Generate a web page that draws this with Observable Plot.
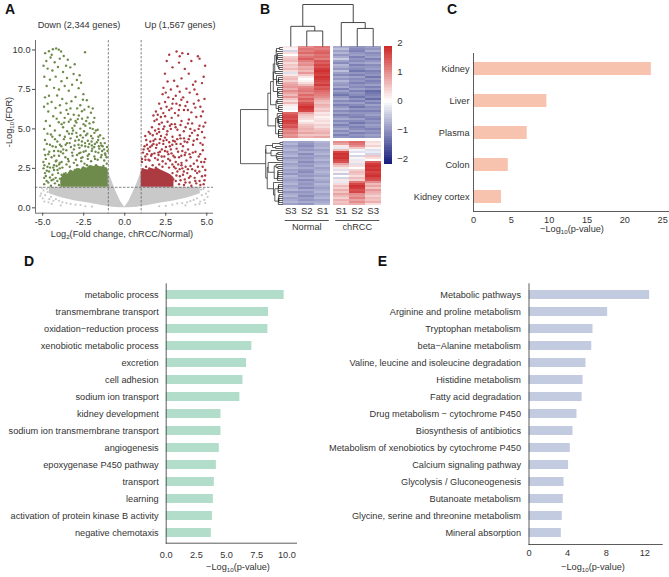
<!DOCTYPE html>
<html><head><meta charset="utf-8">
<script src="https://cdn.jsdelivr.net/npm/d3@7"></script>
<script src="https://cdn.jsdelivr.net/npm/@observablehq/plot@0.6"></script>
<style>
body{margin:0;background:#fff;}
#fig{position:relative;width:669px;height:577px;overflow:hidden;font-family:"Liberation Sans",Arial,sans-serif;color:#333;background:#fff;}
#fig svg{position:absolute;left:0;top:0;}
.lab{position:absolute;transform:translate(-50%,-50%);white-space:nowrap;font-size:9.2px;line-height:1;}
.rot{transform:translate(-50%,-50%) rotate(-90deg);}
.pl{font-weight:bold;font-size:14px;color:#111;}
.lab sub{font-size:6.2px;vertical-align:-2px;line-height:0;}
</style></head><body><div id="fig"></div>
<script>
// ---------------- Panel A: volcano ----------------
const thresholdsFC = [-1, 1];
const thresholdFDR = [1.3];
const downPts = [
[-4.85,9.8],[-4.62,9.92],[-4.38,10.05],[-4.18,10.1],[-4.02,10.02],[-3.88,9.9],[-3.72,9.62],[-3.47,9.38],[-4.78,9.3],[-4.52,9.52],[-4.27,9.22],[-3.96,9.45],[-2.42,9.86],[-4.7,8.82],[-4.41,8.7],[-4.07,8.92],[-3.76,8.6],[-3.32,8.9],[-3.12,8.48],[-4.9,8.3],[-4.56,8.12],[-4.21,8.31],[-3.86,8.02],[-3.52,8.22],[-2.92,8.1],[-2.66,7.92],[-4.76,7.72],[-4.31,7.6],[-3.66,7.72],[-3.21,7.8],[-2.81,7.58],[-4.01,7.5],[-3.41,7.42],[-2.52,7.2],[-4.62,7.1],[-3.05,9.1],[-4.95,9.0],[-3.58,9.0],[-2.75,8.4],[-4.45,9.7],
[-4.86,7.0],[-4.12,7.12],[-3.81,6.9],[-3.0,7.02],[-2.31,6.82],[-4.46,6.7],[-3.56,6.62],[-2.71,6.5],[-4.92,6.4],[-4.22,6.32],[-3.31,6.3],[-2.46,6.22],[-2.06,6.02],[-4.66,6.1],[-3.91,6.02],[-3.11,5.9],[-2.61,6.12],[-4.36,5.8],[-3.66,5.7],[-2.86,5.62],[-2.26,5.72],[-4.81,5.5],[-4.02,5.42],[-3.41,5.45],[-2.51,5.3],[-1.91,5.42],[-4.56,5.2],[-3.76,5.1],[-3.06,5.2],[-2.71,5.02],[-2.11,5.05],[-4.91,5.0],[-4.26,4.9],[-3.51,4.85],[-1.76,4.9],[-3.25,6.75],[-3.95,6.5],[-2.9,6.3],[-4.7,6.6],[-3.45,5.95],[-2.35,5.5],[-4.15,5.65],[-2.95,5.4],[-3.85,5.3],[-1.95,5.0],[-3.2,5.05],
[-4.71,4.7],[-4.41,4.5],[-3.96,4.6],[-3.21,4.7],[-2.91,4.5],[-2.36,4.6],[-1.96,4.4],[-1.61,4.5],[-4.86,4.3],[-4.11,4.2],[-3.71,4.35],[-3.36,4.1],[-2.61,4.2],[-2.16,4.05],[-1.46,4.1],[-4.56,4.0],[-3.86,3.9],[-3.06,3.95],[-2.76,3.8],[-2.41,3.9],[-1.86,3.85],[-1.26,3.7],[-4.91,3.7],[-4.31,3.6],[-3.56,3.65],[-3.21,3.5],[-2.51,3.55],[-2.01,3.6],[-1.61,3.5],[-4.66,3.4],[-4.01,3.3],[-3.76,3.45],[-2.91,3.35],[-2.26,3.3],[-1.41,3.35],[-1.11,3.2],[-4.81,3.1],[-4.46,3.2],[-4.16,3.0],[-3.46,3.1],[-2.66,3.15],[-1.81,3.1],[-4.96,2.9],[-4.61,2.8],[-4.31,2.7],[-3.96,2.85],[-3.3,4.4],[-2.55,4.45],[-1.7,4.15],[-2.0,3.95],[-3.6,4.0],[-2.8,4.3],[-1.35,3.9],[-2.25,4.25],[-4.2,3.85],[-3.1,3.7],[-1.55,3.75],[-2.7,3.5],[-3.9,3.55],[-1.2,3.45],
[-4.95,2.5],[-4.86,2.2],[-4.91,1.9],[-4.76,1.7],[-4.81,2.02],[-4.61,2.3],[-4.56,1.92],[-4.66,1.6],[-4.41,2.1],[-4.46,1.75],[-4.31,2.4],[-4.21,1.9],[-4.26,1.55],[-4.06,2.2],[-4.11,1.7],[-3.96,2.5],[-4.01,1.45],[-4.71,2.6],[-4.36,2.55],[-4.91,1.5],[-4.15,2.65],[-4.5,1.4],[-4.75,2.35],[-3.95,1.85],
[-3.85,2.9],[-3.62,3.2],[-3.42,2.95],[-3.18,3.3],[-2.98,3.05],[-2.78,3.45],[-2.58,3.2],[-2.38,3.6],[-2.18,3.4],[-1.98,3.75],[-1.78,3.55],[-1.58,3.9],[-1.38,3.6],[-1.18,3.35],[-1.05,3.6],
[-3.75,3.7],[-3.52,4.1],[-3.28,3.85],[-3.02,4.25],[-2.82,4.0],[-2.62,3.95],[-2.42,4.1],[-2.22,3.85],[-2.02,4.2],[-1.82,4.05],[-1.62,4.3],[-1.42,3.95],[-1.22,4.1],[-1.08,3.85],
[-3.95,4.0],[-3.65,4.5],[-3.4,4.7],[-3.15,4.9],[-2.95,4.75],[-2.7,4.6],[-2.48,4.85],[-2.28,4.7],[-2.05,4.55],[-1.85,4.75],[-1.65,4.95],[-1.5,4.6],[-1.3,4.4],
[-3.8,2.55],[-3.55,2.75],[-3.35,2.6],[-3.1,2.85],[-2.9,2.7],[-2.65,2.95],[-2.45,2.8],[-2.25,3.1],[-2.05,2.95],[-1.85,3.25],[-1.65,3.05],[-1.45,3.2],[-1.25,3.0],[-1.1,2.8],
[-3.7,5.4],[-3.3,5.6],[-2.8,5.85],[-2.4,5.2],[-2.15,5.35],[-1.85,5.7],[-2.6,5.65],[-3.0,5.5],[-3.55,6.2],[-2.2,6.4],[-2.55,6.85],[-1.95,6.3],
[-4.3,3.3],[-4.05,3.6],[-4.4,3.9],[-4.6,3.55],[-4.75,4.05],[-4.25,4.35],[-4.5,4.65],[-4.85,3.35],[-4.9,2.7],[-4.55,2.55],[-4.2,2.95],[-4.0,2.75],
[-1.15,2.5],[-1.3,2.65],[-1.55,2.55],[-1.75,2.7],[-2.0,2.6],[-2.3,2.7],[-2.55,2.55],[-2.8,2.45],[-3.05,2.4],[-3.3,2.3],[-3.6,2.2],[-3.85,2.1],[-4.1,2.4],[-4.35,1.8]
];
const upPts = [
[2.71,9.7],[3.16,9.9],[3.51,9.8],[3.86,9.75],[4.46,9.6],[4.56,9.45],[2.56,9.3],[3.31,9.2],[4.06,9.3],[2.91,8.9],[3.66,8.8],[4.81,8.3],[2.61,8.0],[3.01,8.05],[3.46,8.2],[4.31,8.0],[4.71,7.9],[2.36,7.6],[2.81,7.5],[3.21,7.7],[3.76,7.55],[4.16,7.8],[3.96,7.3],[3.35,9.6],[4.9,9.0],[2.45,8.5],[3.9,8.5],
[2.31,7.2],[2.66,7.0],[3.11,7.1],[3.56,7.0],[4.41,7.2],[4.86,6.9],[2.46,6.7],[2.91,6.6],[3.36,6.5],[3.81,6.7],[4.21,6.6],[4.61,6.4],[2.21,6.3],[2.71,6.2],[3.06,6.0],[3.61,6.2],[4.06,6.05],[4.76,6.1],[2.01,5.9],[2.46,5.8],[2.86,5.7],[3.26,5.85],[3.91,5.6],[4.36,5.75],[1.81,5.5],[2.26,5.4],[2.61,5.45],[3.06,5.3],[3.46,5.5],[4.11,5.35],[4.56,5.2],[4.91,5.4],[1.66,5.1],[2.06,5.0],[2.41,5.15],[2.81,5.0],[3.21,4.95],[3.71,5.1],[4.26,4.9],[4.71,4.8],[2.1,6.6],[2.95,6.9],[3.7,6.45],[4.5,6.8],[2.35,6.0],[3.3,6.2],[4.0,5.0],[1.95,5.6],[2.75,5.2],
[1.46,4.8],[1.71,4.6],[1.96,4.7],[2.21,4.55],[2.56,4.65],[2.91,4.5],[3.36,4.6],[3.61,4.4],[3.96,4.55],[4.41,4.35],[4.86,4.45],[1.31,4.3],[1.56,4.2],[1.86,4.35],[2.11,4.1],[2.36,4.25],[2.71,4.15],[3.06,4.2],[3.41,4.05],[3.81,4.15],[4.16,4.0],[4.61,4.1],[1.21,3.9],[1.41,3.75],[1.66,3.95],[1.91,3.8],[2.26,3.7],[2.51,3.85],[2.81,3.7],[3.16,3.75],[3.51,3.6],[3.86,3.7],[4.31,3.55],[4.76,3.65],[1.11,3.5],[1.36,3.4],[1.61,3.3],[1.81,3.45],[2.06,3.35],[2.41,3.25],[2.66,3.4],[2.96,3.3],[3.31,3.2],[3.66,3.35],[4.01,3.2],[4.51,3.25],[4.91,3.1],[1.26,3.05],[1.51,3.0],[2.01,3.05],[2.31,2.95],[2.76,3.0],[3.11,2.9],[3.46,2.85],[3.76,3.0],[4.21,2.8],[4.66,2.9],[1.75,4.05],[2.15,3.55],[2.6,3.55],[3.2,4.35],[1.5,3.6],[2.45,4.45],[3.55,3.9],[1.05,3.1],[2.9,4.0],
[3.0,2.6],[3.21,2.3],[3.36,2.0],[3.51,2.5],[3.66,1.8],[3.81,2.2],[3.96,1.6],[4.11,2.45],[4.26,1.9],[4.41,2.2],[4.56,1.7],[4.71,2.0],[4.86,1.75],[3.11,1.7],[3.31,1.5],[3.61,1.45],[3.91,1.9],[4.06,1.4],[4.36,1.55],[4.61,1.45],[4.81,1.5],[3.46,2.7],[3.71,2.6],[4.01,2.65],[4.46,2.6],[4.91,2.4],[3.26,2.75],[2.91,2.2],[2.96,1.8],[2.81,1.5],[3.15,2.05],[3.85,2.45],[4.3,2.35],[4.75,2.6],
[1.05,2.9],[1.25,3.25],[1.45,3.05],[1.65,3.4],[1.85,3.15],[2.05,3.5],[2.25,3.25],[2.45,3.6],[2.65,3.1],[2.85,3.45],[3.05,3.2],[3.25,3.55],[3.45,3.3],[3.7,3.5],[3.95,3.4],
[1.15,3.7],[1.35,4.0],[1.55,3.85],[1.75,4.25],[1.95,4.0],[2.15,4.35],[2.35,4.05],[2.55,4.3],[2.75,3.9],[2.95,4.25],[3.15,4.05],[3.4,4.4],[3.65,4.2],[3.9,4.35],[4.2,4.25],[4.45,4.6],
[1.25,4.55],[1.55,4.7],[1.85,4.9],[2.1,4.8],[2.35,5.0],[2.6,4.85],[2.85,5.3],[3.1,5.1],[3.4,5.25],[3.6,4.85],[3.85,5.35],[4.1,4.75],[4.5,5.0],[4.8,5.15],
[1.1,2.45],[1.3,2.6],[1.5,2.5],[1.7,2.7],[1.9,2.55],[2.1,2.75],[2.3,2.6],[2.5,2.8],[2.7,2.55],[2.9,2.75],[3.1,2.5],[3.35,2.45],[3.6,2.3],
[1.9,6.1],[2.2,5.75],[2.55,6.4],[2.85,6.3],[3.15,6.6],[3.45,6.85],[3.85,6.2],[4.3,6.35],[4.65,5.8],[2.5,7.3],[3.35,7.35],[4.25,7.5],[1.75,5.85],[2.1,5.3],
[4.85,2.9],[4.6,3.4],[4.4,3.0],[4.15,3.5],[4.75,4.0],[4.3,1.7],[4.55,2.3],[3.7,1.6],[4.0,2.0],[3.4,1.75],[3.55,2.1],[4.9,2.05]
];
const grayPts = [
[-5.1,0.9],[-4.95,1.1],[-5.0,0.6],[-4.85,0.8],[-4.9,0.4],[-4.75,1.2],[-4.6,0.55],[-4.5,0.7],[-4.35,0.45],[-4.2,0.55],[-4.0,0.45],[-3.8,0.35],[-3.55,0.3],[-3.3,0.25],[-3.0,0.2],[-2.7,0.18],[-4.45,0.25],[-3.9,0.15],[-5.05,1.25],[-4.7,1.0],[-2.4,0.1],[-2.0,0.08],[-4.65,0.35],[-5.15,0.75],
[4.8,1.2],[4.95,0.9],[5.05,0.7],[4.85,0.5],[4.7,0.8],[4.6,0.4],[4.5,1.0],[4.4,0.6],[4.2,0.5],[4.0,0.42],[3.8,0.35],[3.5,0.3],[3.2,0.28],[2.9,0.2],[4.55,0.25],[4.9,0.3],[3.7,0.15],[5.1,1.05],[4.65,1.15],[2.5,0.12],[2.1,0.1],[4.3,0.2]
];
// dense envelopes (where the points overlap into a solid cloud)
const grayEnvX  = [-4.6,-4.2,-3.8,-3.4,-3.0,-2.6,-2.2,-1.8,-1.4,-1.0,-1.0,-0.75,-0.5,-0.25,0,0.25,0.5,0.75,1.0,1.0,1.4,1.8,2.2,2.6,3.0,3.4,3.8,4.2,4.6];
const grayEnvLo = [0.9,0.75,0.62,0.52,0.44,0.37,0.3,0.22,0.15,0.08,0.08,0.04,0.02,0.01,0,0.01,0.02,0.04,0.08,0.08,0.15,0.22,0.3,0.37,0.44,0.52,0.62,0.75,0.9];
const grayEnvHi = [1.3,1.3,1.3,1.3,1.3,1.3,1.3,1.3,1.3,1.3,2.3,1.6,0.95,0.4,0.04,0.4,0.95,1.55,2.25,1.3,1.3,1.3,1.3,1.3,1.3,1.3,1.3,1.3,1.3];
const downCoreX   = [-3.9,-3.7,-3.5,-3.3,-3.1,-2.9,-2.7,-2.5,-2.3,-2.1,-1.9,-1.7,-1.5,-1.3,-1.1,-1.0];
const downCoreTop = [1.8,2.2,2.1,2.4,2.3,2.5,2.4,2.6,2.5,2.7,2.6,2.7,2.6,2.6,2.5,2.4];
const upCoreX   = [1.0,1.2,1.4,1.6,1.8,2.0,2.2,2.4,2.6,2.8,3.0];
const upCoreTop = [2.3,2.45,2.4,2.5,2.45,2.5,2.4,2.3,2.2,2.1,1.9];
const volcanoXTicks = [-5,-2.5,0,2.5,5];
const volcanoYTicks = [0,2.5,5,7.5,10];

// ---------------- Panel B: heatmap ----------------
const samples = ["S3","S2","S1","S1","S2","S3"];
const sampleGroup = ["Normal","Normal","Normal","chRCC","chRCC","chRCC"];
const groupNames = ["Normal","chRCC"];
const topRows = [
[0.2,1.0,1.2,-0.8,-1.0,-0.9],[0.1,1.2,1.1,-0.6,-1.1,-1.0],[-0.4,1.1,1.3,-0.9,-1.2,-0.8],[0.3,1.3,1.4,-0.7,-1.0,-1.1],
[0.0,1.0,1.2,-1.0,-0.9,-1.0],[0.4,1.2,1.3,-0.8,-1.2,-0.9],[0.5,1.4,1.1,-0.5,-1.0,-1.2],[0.6,1.1,1.5,-0.9,-1.1,-1.0],
[0.3,0.9,1.4,-1.1,-0.9,-0.8],[0.5,1.0,1.6,-0.7,-1.2,-1.1],[0.4,0.7,1.5,-0.8,-1.0,-1.0],[0.6,0.8,1.7,-1.0,-1.1,-0.9],
[0.3,0.6,1.8,-0.6,-1.3,-1.2],[-0.3,0.9,1.7,-0.9,-1.0,-1.1],[0.2,0.5,1.6,-1.1,-1.2,-1.0],[0.5,0.2,1.8,-0.8,-0.9,-1.3],
[0.6,0.0,1.7,-1.0,-1.1,-1.0],[0.4,0.1,1.6,-0.7,-1.0,-1.2],[0.7,0.3,1.5,-0.9,-1.2,-1.1],[0.8,0.6,1.7,-1.0,-1.0,-0.9],
[0.9,1.0,1.4,-0.8,-1.1,-1.2],[0.7,1.1,1.5,-1.2,-0.9,-1.0],[1.0,1.2,1.3,-0.9,-1.2,-1.4],[0.8,1.0,1.2,-1.1,-1.0,-1.3],
[0.6,1.3,1.1,-1.3,-1.1,-1.2],[0.9,1.1,1.0,-1.0,-1.3,-1.1],[0.5,1.4,0.8,-0.8,-1.0,-1.4],[0.3,1.2,0.6,-1.1,-1.2,-1.0],
[0.6,1.5,0.5,-0.9,-0.9,-1.2],[0.2,1.6,0.7,-1.2,-1.1,-0.9],[0.1,1.8,0.6,-1.0,-1.3,-1.1],[-0.1,1.7,0.4,-0.8,-1.0,-1.0],
[0.0,1.6,0.5,-1.1,-1.2,-1.2],[1.3,0.8,0.2,-0.9,-1.0,-1.0],[1.5,0.5,0.3,-1.2,-1.1,-0.9],[1.6,0.4,0.1,-1.0,-1.2,-1.1],
[1.5,0.3,0.2,-0.8,-0.9,-1.2],[1.7,0.1,0.3,-1.1,-1.1,-1.0],[1.6,0.3,0.2,-0.9,-1.3,-1.1],[1.4,0.5,0.4,-1.2,-1.0,-0.9],
[1.5,0.6,0.3,-1.0,-1.2,-1.0],[1.2,0.7,0.5,-0.8,-1.1,-1.2],[1.0,0.6,0.6,-1.1,-0.9,-1.0],[1.1,0.8,0.7,-0.9,-1.2,-1.1],
[0.9,0.5,0.5,-1.2,-1.0,-0.9],[1.0,0.7,0.8,-1.0,-1.1,-1.0]
];
const bottomRows = [
[-0.8,-0.9,-0.7,1.0,1.3,0.3],[-0.7,-1.0,-0.8,0.8,1.2,0.2],[-0.9,-1.1,-0.8,0.2,1.0,0.4],[-0.8,-0.9,-0.7,-0.2,0.5,0.1],
[-0.7,-1.0,-0.9,0.6,-0.1,-0.3],[-0.9,-0.8,-0.8,1.6,-0.3,-0.2],[-0.8,-1.1,-0.7,1.8,0.0,-0.4],[-0.7,-0.9,-0.9,1.7,-0.4,0.5],
[-1.0,-1.0,-0.8,1.8,0.1,0.3],[-0.8,-0.9,-0.7,1.6,-0.2,0.0],[-0.7,-1.1,-0.9,1.5,0.2,1.4],[-0.9,-0.9,-0.8,0.8,-0.3,1.7],
[-0.8,-1.0,-0.7,0.5,0.3,1.8],[-0.7,-0.8,-0.9,0.2,0.0,1.7],[-0.9,-1.0,-0.8,-0.3,0.4,1.8],[-0.8,-1.1,-0.7,0.1,0.6,1.6],
[-1.0,-0.9,-0.8,-0.5,0.5,1.7],[-0.7,-1.0,-0.9,0.0,0.3,1.8],[-0.8,-0.8,-0.7,-0.4,0.6,1.6],[-0.9,-1.1,-0.8,0.2,0.4,1.5],
[-0.8,-0.9,-0.9,-0.2,1.2,1.0],[-0.7,-1.0,-0.7,0.3,1.6,0.6],[-0.9,-0.9,-0.8,0.6,1.8,0.8],[-0.8,-1.1,-0.9,0.4,1.7,0.5],
[-0.7,-0.8,-0.8,0.7,1.5,0.9],[-1.0,-1.0,-0.7,0.5,1.6,0.7],[-0.8,-0.9,-0.9,0.8,1.0,0.6],[-0.7,-1.1,-0.8,0.6,0.9,0.4],
[-0.9,-0.9,-0.7,0.4,1.1,0.6],[-0.8,-1.0,-0.9,0.7,0.8,0.5],[-0.7,-0.8,-0.8,0.5,1.0,0.7],[-0.9,-1.0,-0.7,0.6,0.7,0.3]
];
// column dendrogram merges: [childA, childB, height]; leaves 0..5, merge k -> 6+k
const colMerges = [[1,2,3.7],[0,6,4.8],[4,5,4.3],[3,8,5.7],[7,9,10]];
const colorbarTicks = [-2,-1,0,1,2];
const heatRange = [-2.183, 1.886];

// ---------------- Panel C ----------------
const cTissues = ["Kidney","Liver","Plasma","Colon","Kidney cortex"];
const cValues  = [23.5, 9.7, 7.1, 4.6, 3.7];
const cTicks = [0,5,10,15,20,25];
// ---------------- Panel D ----------------
const dTerms = ["metabolic process","transmembrane transport","oxidation\u2212reduction process","xenobiotic metabolic process","excretion","cell adhesion","sodium ion transport","kidney development","sodium ion transmembrane transport","angiogenesis","epoxygenase P450 pathway","transport","learning","activation of protein kinase B activity","negative chemotaxis"];
const dValues = [9.78,8.48,8.43,7.1,6.66,6.36,6.11,4.54,4.54,4.4,4.16,3.99,3.91,3.83,3.74];
const dTicks = [0,2.5,5,7.5,10];
// ---------------- Panel E ----------------
const eTerms = ["Metabolic pathways","Arginine and proline metabolism","Tryptophan metabolism","beta\u2212Alanine metabolism","Valine, leucine and isoleucine degradation","Histidine metabolism","Fatty acid degradation","Drug metabolism \u2212 cytochrome P450","Biosynthesis of antibiotics","Metabolism of xenobiotics by cytochrome P450","Calcium signaling pathway","Glycolysis / Gluconeogenesis","Butanoate metabolism","Glycine, serine and threonine metabolism","Mineral absorption"];
const eValues = [12.5,8.15,6.63,6.5,5.9,5.6,5.5,4.97,4.56,4.28,4.1,3.63,3.56,3.45,3.35];
const eTicks = [0,4,8,12];

// ================= drawing =================
const W = 669, H = 577;
const fig = document.getElementById("fig");
const FONT = "'Liberation Sans', Arial, sans-serif";
const baseStyle = {background:"transparent", overflow:"visible", fontFamily: FONT, fontSize:"9.2px", color:"#333"};
const AX = "#4a4a4a";
const GREEN = "#6f8b4b", RED = "#ab3a41", GRAY = "#c9c9c9";
function add(p){ fig.appendChild(p); }
function label(html, x, y, cls=""){ const d=document.createElement("div"); d.className="lab "+cls; d.innerHTML=html; d.style.left=x+"px"; d.style.top=y+"px"; fig.appendChild(d); }
const minusFmt = d => d < 0 ? "\u2212" + Math.abs(d) : String(d);

// --- A ---
const xDom = [-5.44, 5.41], yDom = [-0.34, 10.6];
const env = grayEnvX.map((x,i)=>({x, lo:grayEnvLo[i], hi:grayEnvHi[i]}));
const dCore = downCoreX.map((x,i)=>({x, lo:thresholdFDR[0], hi:downCoreTop[i]}));
const uCore = upCoreX.map((x,i)=>({x, lo:thresholdFDR[0], hi:upCoreTop[i]}));
add(Plot.plot({
  width:W, height:H, marginLeft:35, marginRight:W-213, marginTop:40, marginBottom:H-212.7,
  x:{domain:xDom}, y:{domain:yDom}, style:baseStyle,
  marks:[
    Plot.areaY(env, {x:"x", y1:"lo", y2:"hi", fill:GRAY}),
    Plot.dot(grayPts, {x:d=>d[0], y:d=>d[1], r:1.1, fill:GRAY}),
    Plot.areaY(dCore, {x:"x", y1:"lo", y2:"hi", fill:GREEN}),
    Plot.areaY(uCore, {x:"x", y1:"lo", y2:"hi", fill:RED}),
    Plot.dot(downPts, {x:d=>d[0], y:d=>d[1], r:1.2, fill:GREEN}),
    Plot.dot(upPts, {x:d=>d[0], y:d=>d[1], r:1.2, fill:RED}),
    Plot.ruleX(thresholdsFC, {stroke:"#666", strokeWidth:0.8, strokeDasharray:"2.5,1.5"}),
    Plot.ruleY(thresholdFDR, {stroke:"#666", strokeWidth:0.8, strokeDasharray:"2.5,1.5"}),
    Plot.ruleX([xDom[0]], {stroke:AX, strokeWidth:0.8}),
    Plot.ruleY([yDom[0]], {stroke:AX, strokeWidth:0.8}),
    Plot.axisX({ticks:volcanoXTicks, tickFormat:d=>d.toFixed(1), tickSize:3, tickPadding:2, label:null, stroke:AX}),
    Plot.axisY({ticks:volcanoYTicks, tickFormat:d=>d.toFixed(1), tickSize:3, tickPadding:2, label:null, stroke:AX})
  ]
}));
label("Down (2,344 genes)", 79, 26);
label("Up (1,567 genes)", 180, 26);
label("-Log<sub>10</sub>(FDR)", 10, 122, "rot");
label("Log<sub>2</sub>(Fold change, chRCC/Normal)", 122, 235);

// --- B ---
const allRows = topRows.concat(bottomRows);
const nTop = topRows.length, gapY = 1.5, gapX = 0.16;
const rowPos = i => i < nTop ? i : i + gapY;
const colPos = c => c < 3 ? c : c + gapX;
const rowEnd = allRows.length + gapY;
const hxDom = [0, samples.length + gapX], hyDom = [0, rowEnd];
const hmL = 282.3, hmR = 380.7, hmT = 46, hmB = 46 + rowEnd*2;
const colorScale = {type:"linear", domain:[heatRange[0],0,heatRange[1]], range:["#131a78","#ffffff","#cd2626"], interpolate:"rgb"};
const cells = [];
allRows.forEach((r,i)=>r.forEach((v,c)=>cells.push({x1:colPos(c), x2:colPos(c)+1, y1:rowPos(i), y2:rowPos(i)+1, v})));
const groups = groupNames.map(g=>{ const idx = sampleGroup.map((s,i)=>s===g?i:-1).filter(i=>i>=0); return {g, a:d3.min(idx), b:d3.max(idx)}; });
add(Plot.plot({
  width:W, height:H, marginLeft:hmL, marginRight:W-hmR, marginTop:hmT, marginBottom:H-hmB,
  x:{domain:hxDom, axis:null}, y:{domain:hyDom, reverse:true, axis:null}, color:colorScale, style:baseStyle,
  marks:[
    Plot.rect(cells, {x1:"x1", x2:"x2", y1:"y1", y2:"y2", fill:"v", shapeRendering:"crispEdges"}),
    Plot.text(samples, {x:(d,i)=>colPos(i)+0.5, y:rowEnd+2.6, text:d=>d, fontSize:9.6}),
    Plot.link(groups, {x1:d=>colPos(d.a)+0.12, x2:d=>colPos(d.b)+0.88, y1:rowEnd+7.5, y2:rowEnd+7.5, stroke:"#555", strokeWidth:1}),
    Plot.text(groups, {x:d=>(colPos(d.a)+colPos(d.b)+1)/2, y:rowEnd+10.6, text:"g", fontSize:9.2})
  ]
}));
// row dendrogram (adjacency-constrained average linkage on the rows above)
function rowDendro(rows){
  let cl = rows.map((r,i)=>({m:[i], h:0, y:rowPos(i)+0.5}));
  const dist=(a,b)=>{let s=0,n=0; for(const i of a.m) for(const j of b.m){let d=0; for(let k=0;k<rows[i].length;k++){const t=rows[i][k]-rows[j][k]; d+=t*t;} s+=Math.sqrt(d); n++;} return s/n;};
  const segs=[];
  while(cl.length>1){
    let best=0, bd=Infinity;
    for(let i=0;i<cl.length-1;i++){const d=dist(cl[i],cl[i+1]); if(d<bd){bd=d;best=i;}}
    const a=cl[best], b=cl[best+1], h=Math.max(bd,a.h,b.h);
    segs.push({x1:a.h,x2:h,y1:a.y,y2:a.y},{x1:b.h,x2:h,y1:b.y,y2:b.y},{x1:h,x2:h,y1:a.y,y2:b.y});
    cl.splice(best,2,{m:a.m.concat(b.m),h,y:(a.y+b.y)/2});
  }
  return {segs, root:cl[0].h};
}
const rd = rowDendro(allRows);
add(Plot.plot({
  width:W, height:H, marginLeft:240, marginRight:W-hmL, marginTop:hmT, marginBottom:H-hmB,
  x:{domain:[rd.root,0], axis:null}, y:{domain:hyDom, reverse:true, axis:null}, style:baseStyle,
  marks:[Plot.link(rd.segs, {x1:"x1",x2:"x2",y1:"y1",y2:"y2", stroke:"#1a1a1a", strokeWidth:0.7})]
}));
// column dendrogram
const nodes = samples.map((s,i)=>({x:colPos(i)+0.5, h:0}));
const csegs = [];
colMerges.forEach(([a,b,h])=>{ const A=nodes[a], B=nodes[b];
  csegs.push({x1:A.x,x2:A.x,y1:A.h,y2:h},{x1:B.x,x2:B.x,y1:B.h,y2:h},{x1:A.x,x2:B.x,y1:h,y2:h});
  nodes.push({x:(A.x+B.x)/2, h}); });
add(Plot.plot({
  width:W, height:H, marginLeft:hmL, marginRight:W-hmR, marginTop:4, marginBottom:H-hmT,
  x:{domain:hxDom, axis:null}, y:{domain:[0, d3.max(colMerges, d=>d[2])], axis:null}, style:baseStyle,
  marks:[Plot.link(csegs, {x1:"x1",x2:"x2",y1:"y1",y2:"y2", stroke:"#333", strokeWidth:0.9})]
}));
// colour bar
const cbSteps = d3.range(50).map(i=>{ const a=heatRange[0]+(heatRange[1]-heatRange[0])*i/50, b=heatRange[0]+(heatRange[1]-heatRange[0])*(i+1)/50; return {a,b,v:(a+b)/2}; });
add(Plot.plot({
  width:W, height:H, marginLeft:384.3, marginRight:W-391.7, marginTop:46, marginBottom:H-164,
  x:{domain:[0,1], axis:null}, y:{domain:heatRange}, color:colorScale, style:baseStyle,
  marks:[
    Plot.rect(cbSteps, {x1:0, x2:1, y1:"a", y2:"b", fill:"v", shapeRendering:"crispEdges"}),
    Plot.axisY({anchor:"right", ticks:colorbarTicks, tickFormat:minusFmt, tickSize:0, tickPadding:5, label:null, fontSize:9.6})
  ]
}));

// --- bar chart helper ---
function barChart(terms, values, o){
  return Plot.plot({
    width:W, height:H, marginLeft:o.l, marginRight:W-o.r, marginTop:o.t, marginBottom:H-o.b,
    x:{domain:[0,o.max]}, y:{domain:terms, paddingInner:o.pi, paddingOuter:o.po}, style:baseStyle,
    marks:[
      Plot.barX(terms, {x:(d,i)=>values[i], y:d=>d, fill:o.fill}),
      Plot.frame({anchor:"left", stroke:AX, strokeWidth:0.9}),
      Plot.frame({anchor:"bottom", stroke:AX, strokeWidth:0.9}),
      Plot.axisY({tickSize:0, tickPadding:o.ypad, label:null}),
      Plot.axisX({ticks:o.ticks, tickFormat:o.fmt, tickSize:0, tickPadding:o.xpad, label:null})
    ]
  });
}
add(barChart(cTissues, cValues, {l:473, r:669, t:53, b:211, max:25.9, pi:0.6, po:0.225, fill:"#f7c3ae", ticks:cTicks, fmt:d=>d, ypad:4, xpad:5}));
add(barChart(dTerms, dValues, {l:165.7, r:296, t:283.3, b:542.7, max:10.8, pi:0.49, po:0.29, fill:"#b2ddca", ticks:dTicks, fmt:d=>d.toFixed(1), ypad:7.5, xpad:8}));
add(barChart(eTerms, eValues, {l:528.5, r:661.7, t:283.3, b:544, max:13.8, pi:0.49, po:0.29, fill:"#c3cbe0", ticks:eTicks, fmt:d=>d, ypad:8, xpad:5}));
label("\u2212Log<sub>10</sub>(p-value)", 572, 230);
label("\u2212Log<sub>10</sub>(p-value)", 238, 568);
label("\u2212Log<sub>10</sub>(p-value)", 593, 568);

// panel letters
label("A", 10, 9, "pl"); label("B", 265, 9, "pl"); label("C", 452, 9, "pl");
label("D", 29, 261, "pl"); label("E", 382.5, 261, "pl");
</script></body></html>
